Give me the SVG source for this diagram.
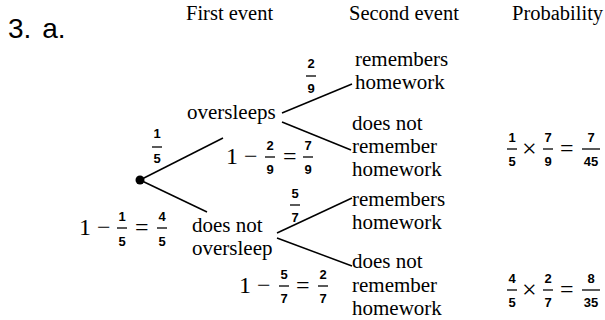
<svg xmlns="http://www.w3.org/2000/svg" width="605" height="320" viewBox="0 0 605 320">
<style>
.t{font-family:"Liberation Serif","Times New Roman",serif;font-size:21px;fill:#000}
.h{font-family:"Liberation Serif","Times New Roman",serif;font-size:20.5px;fill:#000}
.m{font-family:"Liberation Serif","Times New Roman",serif;font-size:24px;fill:#000}
.x{font-family:"Liberation Serif","Times New Roman",serif;font-size:26px;fill:#000}
.f{font-family:"Liberation Sans",Arial,sans-serif;font-size:13px;font-weight:bold;fill:#000;text-anchor:middle}
.b{stroke:#000;stroke-width:1.3}
.l{stroke:#000;stroke-width:1.5;fill:none}
.title{font-family:"Liberation Sans",Arial,sans-serif;font-size:28px;word-spacing:3px;fill:#000}
</style>
<rect width="605" height="320" fill="#fff"/>
<text class="title" x="8" y="38">3. a.</text>
<g id="headers">
<text class="h" x="186" y="20">First event</text>
<text class="h" x="349" y="20">Second event</text>
<text class="h" x="512" y="20">Probability</text>
</g>
<g id="connectors">
<line class="l" x1="140" y1="180" x2="223" y2="138"/>
<line class="l" x1="140" y1="180" x2="207" y2="212"/>
<line class="l" x1="282" y1="113" x2="352" y2="84"/>
<line class="l" x1="282" y1="122" x2="351" y2="150"/>
<line class="l" x1="277" y1="233" x2="352" y2="198"/>
<line class="l" x1="277" y1="238" x2="352" y2="266"/>
</g>
<g id="root"><circle cx="140" cy="180" r="4.5" fill="#000"/></g>
<g id="p15">
<text class="f" x="157" y="138">1</text><line class="b" x1="152" y1="147" x2="162" y2="147"/><text class="f" x="157" y="163">5</text>
</g>
<g id="p45">
<text class="m" x="79" y="235">1</text><text class="m" x="97" y="235">−</text>
<text class="f" x="122" y="221">1</text><line class="b" x1="117" y1="228" x2="127" y2="228"/><text class="f" x="122" y="246">5</text>
<text class="m" x="135" y="235">=</text>
<text class="f" x="162" y="221">4</text><line class="b" x1="157" y1="228" x2="167" y2="228"/><text class="f" x="162" y="246">5</text>
</g>
<g id="oversleeps"><text class="t" x="187" y="119">oversleeps</text></g>
<g id="notoversleep"><text class="t" x="192" y="232">does not</text><text class="t" x="192" y="255">oversleep</text></g>
<g id="p29">
<text class="f" x="311" y="68">2</text><line class="b" x1="306" y1="76" x2="316" y2="76"/><text class="f" x="311" y="93">9</text>
</g>
<g id="p79">
<text class="m" x="226" y="164">1</text><text class="m" x="244" y="164">−</text>
<text class="f" x="270" y="150">2</text><line class="b" x1="265" y1="157" x2="275" y2="157"/><text class="f" x="270" y="174">9</text>
<text class="m" x="283" y="164">=</text>
<text class="f" x="308" y="150">7</text><line class="b" x1="303" y1="157" x2="313" y2="157"/><text class="f" x="308" y="174">9</text>
</g>
<g id="p57">
<text class="f" x="295" y="198">5</text><line class="b" x1="290" y1="205" x2="300" y2="205"/><text class="f" x="295" y="222">7</text>
</g>
<g id="p27">
<text class="m" x="239" y="293">1</text><text class="m" x="257" y="293">−</text>
<text class="f" x="284" y="279">5</text><line class="b" x1="279" y1="286" x2="289" y2="286"/><text class="f" x="284" y="303">7</text>
<text class="m" x="296" y="293">=</text>
<text class="f" x="323" y="279">2</text><line class="b" x1="318" y1="286" x2="328" y2="286"/><text class="f" x="323" y="303">7</text>
</g>
<g id="rem1"><text class="t" x="355" y="66">remembers</text><text class="t" x="355" y="89">homework</text></g>
<g id="notrem1"><text class="t" x="352" y="130">does not</text><text class="t" x="352" y="153">remember</text><text class="t" x="352" y="176">homework</text></g>
<g id="rem2"><text class="t" x="352" y="206">remembers</text><text class="t" x="352" y="229">homework</text></g>
<g id="notrem2"><text class="t" x="352" y="268">does not</text><text class="t" x="352" y="292">remember</text><text class="t" x="352" y="315">homework</text></g>
<g id="prob1">
<text class="f" x="512" y="142">1</text><line class="b" x1="507" y1="149" x2="517" y2="149"/><text class="f" x="512" y="166">5</text>
<text class="x" x="522" y="157">×</text>
<text class="f" x="548" y="142">7</text><line class="b" x1="543" y1="149" x2="553" y2="149"/><text class="f" x="548" y="166">9</text>
<text class="m" x="560" y="156">=</text>
<text class="f" x="591" y="142">7</text><line class="b" x1="582" y1="149" x2="600" y2="149"/><text class="f" x="591" y="166">45</text>
</g>
<g id="prob2">
<text class="f" x="512" y="283">4</text><line class="b" x1="507" y1="290" x2="517" y2="290"/><text class="f" x="512" y="307">5</text>
<text class="x" x="522" y="298">×</text>
<text class="f" x="548" y="283">2</text><line class="b" x1="543" y1="290" x2="553" y2="290"/><text class="f" x="548" y="307">7</text>
<text class="m" x="560" y="297">=</text>
<text class="f" x="591" y="283">8</text><line class="b" x1="582" y1="290" x2="600" y2="290"/><text class="f" x="591" y="307">35</text>
</g>
</svg>
